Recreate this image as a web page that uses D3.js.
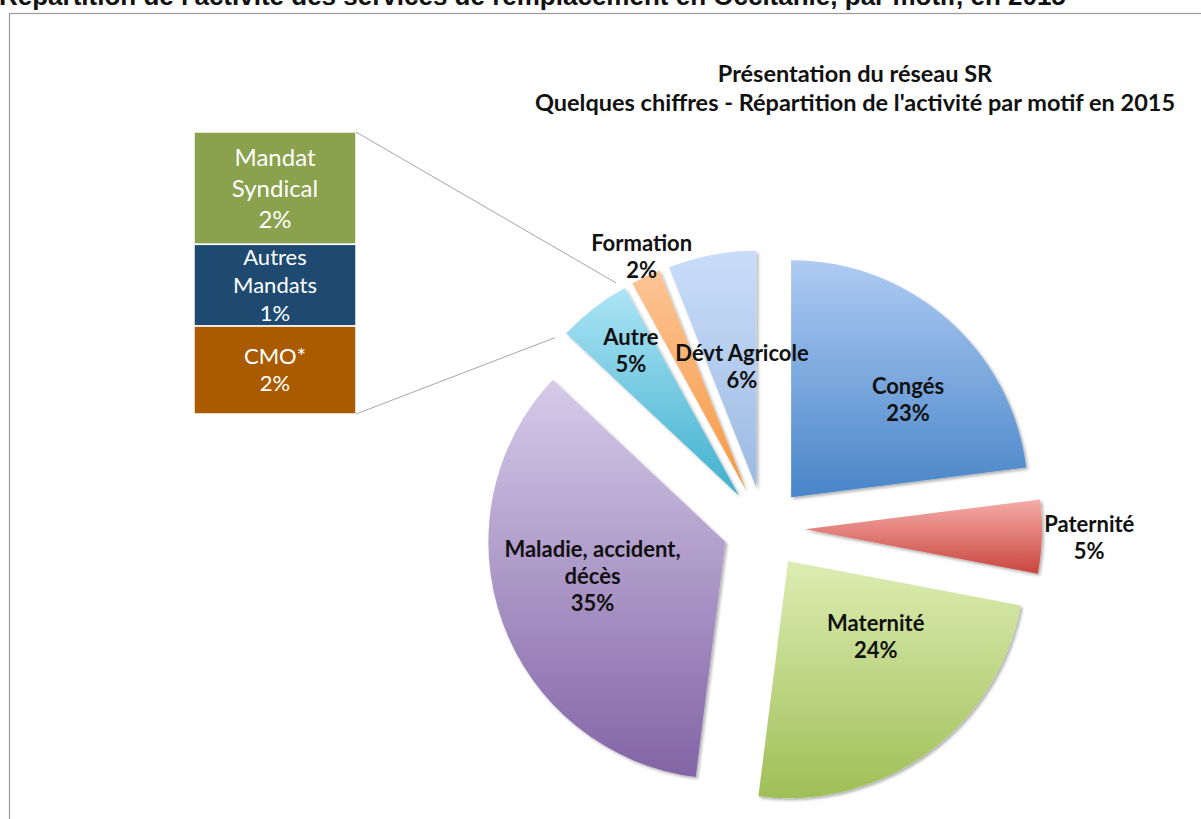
<!DOCTYPE html>
<html>
<head>
<meta charset="utf-8">
<script src="https://cdnjs.cloudflare.com/ajax/libs/d3/7.8.5/d3.min.js"></script>
<style>
  html, body { margin: 0; padding: 0; background: #fff; }
  svg { display: block; }
</style>
</head>
<body>
<svg id="chart"></svg>
<script>
// data
const categories = ["Congés", "Paternité", "Maternité", "Maladie, accident, décès", "Autre", "Formation", "Dévt Agricole"];
const values = [23, 5, 24, 35, 5, 2, 6];
const labelLines = [["Congés"], ["Paternité"], ["Maternité"], ["Maladie, accident,", "décès"], ["Autre"], ["Formation"], ["Dévt Agricole"]];
const topColors = ["#aecbf3", "#f5aca7", "#dcedb2", "#d6cbe9", "#ace4f6", "#fdc496", "#c9ddfa"];
const bottomColors = ["#4885c8", "#c9463f", "#9fbf57", "#8264a6", "#40b0cd", "#f5983f", "#9dbae2"];

// detail of "Autre"
const subCategories = [["Mandat", "Syndical"], ["Autres", "Mandats"], ["CMO*"]];
const subValues = [1.98, 1.44, 1.55];
const subColors = ["#8aa14d", "#1e4a72", "#aa5b00"];

const width = 1201, height = 819;
const svg = d3.select("#chart").attr("width", width).attr("height", height);

// page title (cut at the top) and frame
svg.append("text")
    .attr("x", -1).attr("y", 5)
    .attr("font-family", "Liberation Sans, Arial, sans-serif")
    .attr("font-weight", "bold").attr("font-size", 26)
    .attr("fill", "#111")
    .text("Répartition de l'activité des services de remplacement en Occitanie, par motif, en 2015");

svg.append("rect")
    .attr("x", 9.5).attr("y", 13.5)
    .attr("width", 1300).attr("height", 900)
    .attr("fill", "#fff").attr("stroke", "#9a9a9a").attr("stroke-width", 1.2);

// chart titles
const titles = ["Présentation du réseau SR", "Quelques chiffres - Répartition de l'activité par motif en 2015"];
svg.append("g").selectAll("text").data(titles).enter().append("text")
    .attr("x", 855).attr("y", (d, i) => 82 + i * 29)
    .attr("text-anchor", "middle")
    .attr("font-family", "Lato, 'Open Sans', sans-serif")
    .attr("font-weight", "bold").attr("font-size", 23.5)
    .attr("fill", "#111")
    .text(d => d);

// defs: gradients + shadow
const defs = svg.append("defs");
categories.forEach((c, i) => {
    const g = defs.append("linearGradient").attr("id", "grad" + i)
        .attr("x1", 0).attr("y1", 0).attr("x2", 0).attr("y2", 1);
    g.append("stop").attr("offset", "0%").attr("stop-color", topColors[i]);
    g.append("stop").attr("offset", "100%").attr("stop-color", bottomColors[i]);
});
const shadow = defs.append("filter").attr("id", "shadow")
    .attr("x", "-10%").attr("y", "-10%").attr("width", "130%").attr("height", "130%");
shadow.append("feDropShadow").attr("dx", 2).attr("dy", 2).attr("stdDeviation", 1.5)
    .attr("flood-color", "#000").attr("flood-opacity", 0.3);

// pie layout
const cx = 764, cy = 528, R = 237, explode = 41;
const pie = d3.pie().sort(null).value(d => d)(values);
const arc = d3.arc().innerRadius(0).outerRadius(R);
const mid = d => (d.startAngle + d.endAngle) / 2;

const slices = svg.append("g").attr("transform", `translate(${cx},${cy})`);
slices.selectAll("path").data(pie).enter().append("path")
    .attr("d", arc)
    .attr("transform", d => `translate(${explode * Math.sin(mid(d))},${-explode * Math.cos(mid(d))})`)
    .attr("fill", (d, i) => `url(#grad${i})`)
    .attr("filter", "url(#shadow)");

// label placement: [angle offset (deg), distance as fraction of R] from the exploded slice tip
const labelLayout = [[9, 0.64], [0, 1.2], [-13, 0.49], [5, 0.58], [1, 0.76], [1, 1.08], [4, 0.51]];
const lineH = 27;
const labels = slices.append("g")
    .attr("font-family", "Lato, 'Open Sans', sans-serif")
    .attr("font-weight", "bold").attr("font-size", 22).attr("fill", "#111")
    .attr("text-anchor", "middle");
pie.forEach((d, i) => {
    const m = mid(d);
    const a = m + labelLayout[i][0] * Math.PI / 180;
    const k = labelLayout[i][1] * R;
    const x = explode * Math.sin(m) + k * Math.sin(a);
    const y = -explode * Math.cos(m) - k * Math.cos(a);
    const lines = labelLines[i].concat([Math.round(values[i]) + "%"]);
    const t = labels.append("text").attr("x", x).attr("y", y - (lines.length - 1) * lineH / 2 + 7);
    lines.forEach((l, j) => t.append("tspan").attr("x", x).attr("dy", j === 0 ? 0 : lineH).text(l));
});

// stacked bar for "Autre"
const barX0 = 194, barX1 = 356, barY0 = 132, barY1 = 414;
const subTotal = d3.sum(subValues);
const y = d3.scaleLinear().domain([0, subTotal]).range([barY0, barY1]);
let acc = 0;
const stack = subValues.map(v => { const s = { y0: acc, y1: acc + v, v: v }; acc += v; return s; });

const bar = svg.append("g");
bar.selectAll("rect").data(stack).enter().append("rect")
    .attr("x", barX0).attr("width", barX1 - barX0)
    .attr("y", d => y(d.y0)).attr("height", d => y(d.y1) - y(d.y0))
    .attr("fill", (d, i) => subColors[i])
    .attr("stroke", "#fff").attr("stroke-width", 1.5);

const subFont = [24, 22, 22];
const subLineH = [31, 28, 27];
stack.forEach((d, i) => {
    const lines = subCategories[i].concat([Math.round(d.v) + "%"]);
    const ym = (y(d.y0) + y(d.y1)) / 2;
    const t = bar.append("text")
        .attr("x", (barX0 + barX1) / 2)
        .attr("y", ym - (lines.length - 1) * subLineH[i] / 2 + subFont[i] * 0.35)
        .attr("text-anchor", "middle")
        .attr("font-family", "Lato, 'Open Sans', sans-serif")
        .attr("font-size", subFont[i]).attr("fill", "#fff");
    lines.forEach((l, j) => t.append("tspan").attr("x", (barX0 + barX1) / 2).attr("dy", j === 0 ? 0 : subLineH[i]).text(l));
});

// connector lines from the bar to the "Autre" slice
const autre = pie[4];
const am = mid(autre);
const ox = cx + explode * Math.sin(am), oy = cy - explode * Math.cos(am);
const corner = a => [ox + R * Math.sin(a), oy - R * Math.cos(a)];
const pull = (p, q, dist) => {
    const dx = q[0] - p[0], dy = q[1] - p[1], L = Math.hypot(dx, dy);
    return [p[0] + dx / L * dist, p[1] + dy / L * dist];
};
const connectors = [
    [[barX1, barY0], pull(corner(autre.endAngle), [barX1, barY0], 10)],
    [[barX1, barY1], pull(corner(autre.startAngle), [barX1, barY1], 12)]
];
svg.append("g").selectAll("line").data(connectors).enter().append("line")
    .attr("x1", d => d[0][0]).attr("y1", d => d[0][1])
    .attr("x2", d => d[1][0]).attr("y2", d => d[1][1])
    .attr("stroke", "#a6a6a6").attr("stroke-width", 1);
</script>
</body>
</html>
